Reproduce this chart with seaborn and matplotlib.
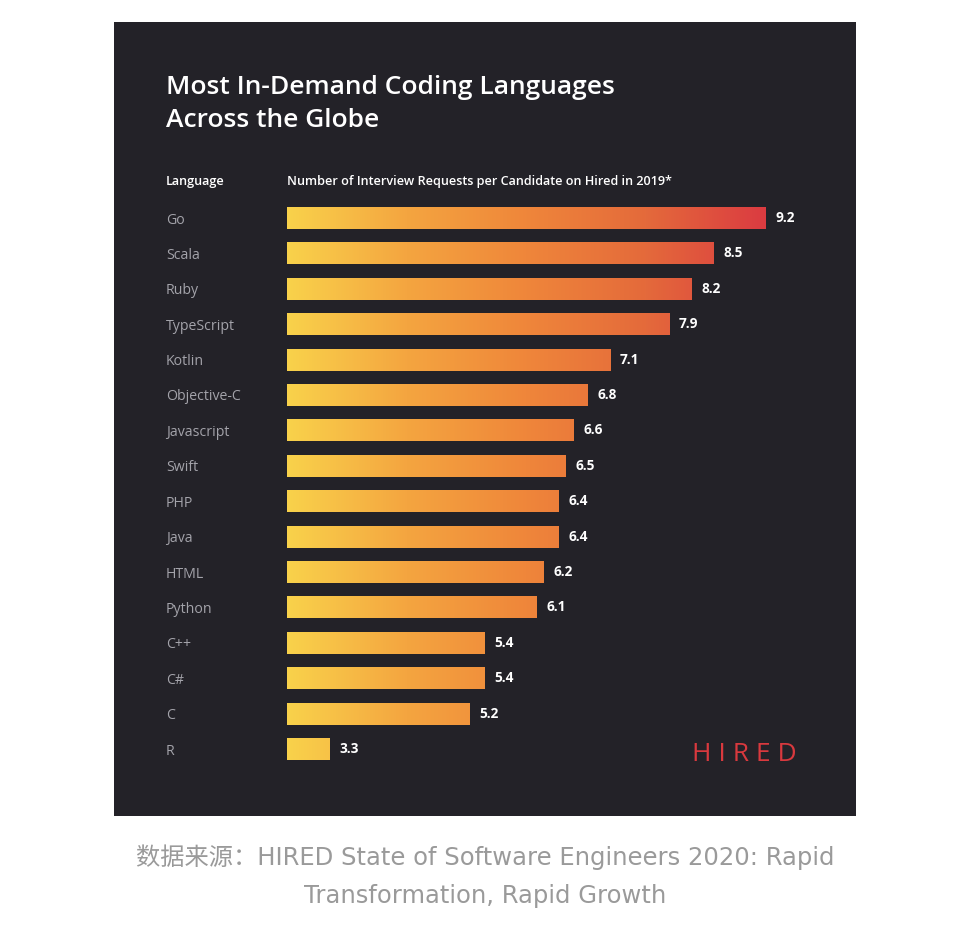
import numpy as np
import matplotlib
matplotlib.use("Agg")
import matplotlib.pyplot as plt
import seaborn as sns
from matplotlib.colors import LinearSegmentedColormap
from matplotlib.patches import Rectangle

# ---- data ----
languages = ["Go", "Scala", "Ruby", "TypeScript", "Kotlin", "Objective-C",
             "Javascript", "Swift", "PHP", "Java", "HTML", "Python",
             "C++", "C#", "C", "R"]
requests = [9.2, 8.5, 8.2, 7.9, 7.1, 6.8, 6.6, 6.5, 6.4, 6.4, 6.2, 6.1,
            5.4, 5.4, 5.2, 3.3]
value_labels = [f"{v:.1f}" for v in requests]

title_lines = ["Most In-Demand Coding Languages", "Across the Globe"]
col_header_left = "Language"
col_header_right = "Number of Interview Requests per Candidate on Hired in 2019*"
brand = "H I R E D"
caption_lines = ["数据来源：HIRED State of Software Engineers 2020: Rapid",
                 "Transformation, Rapid Growth"]

# ---- style ----
W, H = 970, 934
PANEL = "#232228"
LABEL_GRAY = "#a3a3aa"
sns.set_style("dark")
plt.rcParams["font.family"] = ["Open Sans", "DejaVu Sans"]

fig = plt.figure(figsize=(W / 100, H / 100), dpi=100)
fig.patch.set_facecolor("white")

def fx(px):
    return px / W

def fy(py):
    return 1 - py / H

# dark panel
fig.add_artist(Rectangle((fx(114), fy(816)), fx(742), 794 / H,
                         transform=fig.transFigure, facecolor=PANEL,
                         edgecolor="none", zorder=-10))

ax_top, ax_bot = 200.3, 766.7
ax = fig.add_axes([fx(287), fy(ax_bot), fx(856 - 287), (ax_bot - ax_top) / H])
ax.set_facecolor("none")

sns.barplot(x=requests, y=languages, orient="h", color="#f0a040",
            width=0.62, ax=ax, saturation=1)

x_left = 2.723
x_right = 10.433
n = len(languages)

cmap = LinearSegmentedColormap.from_list(
    "hired", ["#f9d24b", "#f4a540", "#ef863a", "#e46a3b", "#db3b41"])
grad = np.linspace(0, 1, 256).reshape(1, -1)
vmax = max(requests)
for p in ax.patches:
    p.set_facecolor("none")
    p.set_edgecolor("none")
    im = ax.imshow(grad, cmap=cmap, aspect="auto",
                   extent=[x_left, vmax, n - 0.5, -0.5],
                   zorder=2, interpolation="bilinear")
    im.set_clip_path(p)
ax.set_xlim(x_left, x_right)
ax.set_ylim(n - 0.5, -0.5)

ax.bar_label(ax.containers[0], labels=value_labels, padding=7.2,
             color="white", fontsize=9.8, fontweight="bold")

for s in ax.spines.values():
    s.set_visible(False)
ax.set_xticks([])
ax.set_xlabel("")
ax.set_ylabel("")
ax.grid(False)
ax.tick_params(axis="y", length=0, pad=87.1, labelsize=10.2,
               labelcolor=LABEL_GRAY)
for t in ax.get_yticklabels():
    t.set_horizontalalignment("left")
    t.set_color(LABEL_GRAY)
    t.set_fontweight("normal")

# ---- texts ----
fig.text(fx(166), fy(94), title_lines[0], color="white", fontsize=19,
         fontweight="semibold", va="baseline", ha="left")
fig.text(fx(166), fy(127), title_lines[1], color="white", fontsize=19,
         fontweight="semibold", va="baseline", ha="left")
fig.text(fx(166), fy(185), col_header_left, color="white", fontsize=9.1,
         fontweight="semibold", va="baseline", ha="left")
fig.text(fx(287), fy(185), col_header_right, color="white", fontsize=9.1,
         fontweight="semibold", va="baseline", ha="left")
fig.text(fx(797), fy(761), brand, color="#d9393e", fontsize=19,
         fontweight="medium", va="baseline", ha="right")
fig.text(fx(485), fy(865), caption_lines[0], color="#9a9a9a", fontsize=17.5,
         va="baseline", ha="center", family=["DejaVu Sans", "Noto Sans CJK SC"])
fig.text(fx(485), fy(903), caption_lines[1], color="#9a9a9a", fontsize=17.5,
         va="baseline", ha="center", family=["DejaVu Sans", "Noto Sans CJK SC"])

fig.savefig("out.png", dpi=100, facecolor="white")
